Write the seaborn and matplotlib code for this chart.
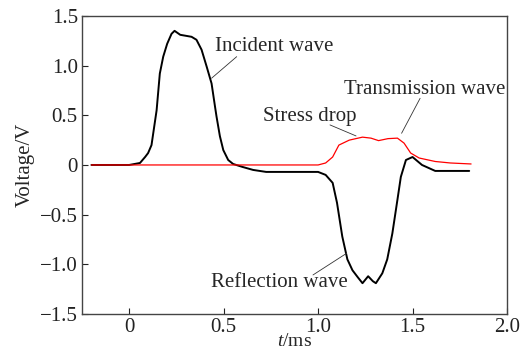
import numpy as np
import pandas as pd
import matplotlib
matplotlib.use("Agg")
import matplotlib.pyplot as plt
import seaborn as sns

# Black signal (incident + reflection)
t_black = [-0.2, 0.0, 0.057, 0.084, 0.10, 0.118, 0.145, 0.162, 0.18, 0.201, 0.224, 0.24,
           0.27, 0.30, 0.33, 0.356, 0.383, 0.41, 0.436, 0.454, 0.462, 0.48, 0.498, 0.524,
           0.55, 0.60, 0.656, 0.725, 0.80, 0.90, 1.00, 1.04, 1.077, 1.10, 1.128, 1.155,
           1.182, 1.21, 1.235, 1.265, 1.29, 1.306, 1.34, 1.366, 1.393, 1.42, 1.438, 1.465,
           1.50, 1.55, 1.62, 1.70, 1.80]
v_black = [0.0, 0.0, 0.02, 0.08, 0.12, 0.20, 0.55, 0.92, 1.09, 1.22, 1.32, 1.35,
           1.31, 1.30, 1.29, 1.26, 1.16, 0.99, 0.82, 0.59, 0.49, 0.29, 0.15, 0.05,
           0.01, -0.02, -0.05, -0.07, -0.07, -0.07, -0.07, -0.10, -0.18, -0.38, -0.72, -0.95,
           -1.06, -1.13, -1.19, -1.12, -1.17, -1.19, -1.09, -0.95, -0.69, -0.35, -0.12, 0.05,
           0.08, 0.0, -0.06, -0.06, -0.06]

# Red signal (transmission)
t_red = [-0.2, 1.0, 1.04, 1.077, 1.11, 1.165, 1.235, 1.28, 1.32, 1.37, 1.42, 1.455,
         1.49, 1.535, 1.62, 1.70, 1.81]
v_red = [0.0, 0.0, 0.02, 0.08, 0.20, 0.25, 0.28, 0.27, 0.245, 0.265, 0.27, 0.22,
         0.12, 0.07, 0.035, 0.02, 0.01]

x_ticks = [0, 0.5, 1.0, 1.5, 2.0]
x_ticklabels = ["0", "0.5", "1.0", "1.5", "2.0"]
y_ticks = [-1.5, -1.0, -0.5, 0, 0.5, 1.0, 1.5]
y_ticklabels = ["\u22121.5", "\u22121.0", "\u22120.5", "0", "0.5", "1.0", "1.5"]

sns.set_style("ticks")
plt.rcParams["font.family"] = ["Liberation Serif", "DejaVu Serif"]
plt.rcParams["mathtext.fontset"] = "custom"
plt.rcParams["mathtext.it"] = "Liberation Serif:italic"
plt.rcParams["mathtext.rm"] = "Liberation Serif"

df_b = pd.DataFrame({"t": t_black, "v": v_black})
df_r = pd.DataFrame({"t": t_red, "v": v_red})

fig = plt.figure(figsize=(5.28, 3.54), dpi=100)
ax = fig.add_axes([0.1553, 0.113, 0.8049, 0.842])

sns.lineplot(data=df_b, x="t", y="v", ax=ax, color="black", linewidth=1.4, estimator=None, sort=False)
sns.lineplot(data=df_r, x="t", y="v", ax=ax, color="#ff0000", linewidth=0.9, estimator=None, sort=False)

ax.set_xlim(-0.25, 2.0)
ax.set_ylim(-1.5, 1.5)
ax.set_xticks(x_ticks)
ax.set_xticklabels(x_ticklabels)
ax.set_yticks(y_ticks)
ax.set_yticklabels(y_ticklabels)
ax.tick_params(direction="in", length=4, width=0.8, labelsize=15, colors="#222222", pad=3)
ax.tick_params(axis="x", pad=3)
for s in ax.spines.values():
    s.set_visible(True)
    s.set_linewidth(1.0)
    s.set_color("#444444")

ax.set_xlabel("$t$/ms", fontsize=14, labelpad=-3)
ax.set_ylabel("Voltage/V", fontsize=15, labelpad=4)

fs = 15
ax.text(0.454, 1.19, "Incident wave", fontsize=fs, va="center", ha="left")
ax.plot([0.569, 0.436], [1.09, 0.873], color="#333333", lw=0.6)
ax.text(0.708, 0.483, "Stress drop", fontsize=fs, va="center", ha="left")
ax.plot([1.063, 1.201], [0.403, 0.292], color="#333333", lw=0.6)
ax.text(1.137, 0.755, "Transmission wave", fontsize=fs, va="center", ha="left")
ax.plot([1.54, 1.442], [0.671, 0.319], color="#333333", lw=0.6)
ax.text(0.433, -1.178, "Reflection wave", fontsize=fs, va="center", ha="left")
ax.plot([0.973, 1.151], [-1.107, -0.889], color="#333333", lw=0.6)

fig.savefig("out.png", dpi=100)
